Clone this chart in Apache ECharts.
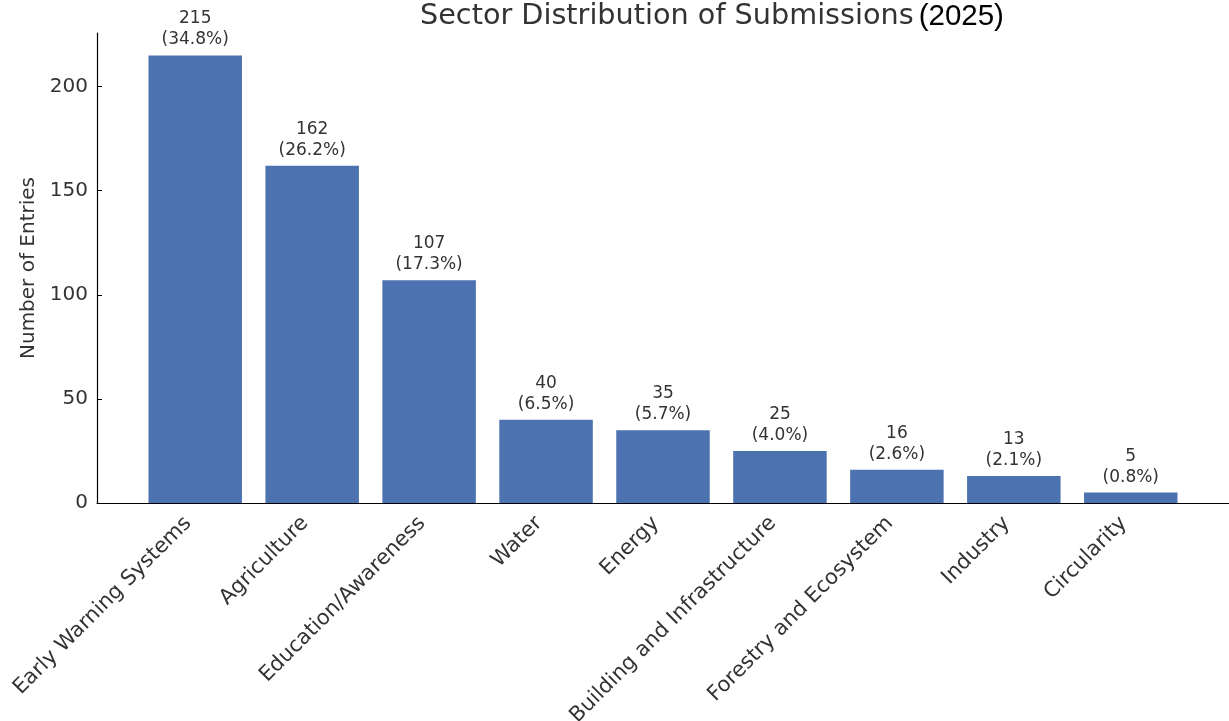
<!DOCTYPE html>
<html>
<head>
<meta charset="utf-8">
<script src="https://cdn.jsdelivr.net/npm/echarts@6/dist/echarts.min.js"></script>
<style>
  html, body { margin: 0; padding: 0; background: #fff; }
  #chart { width: 1229px; height: 721px; }
</style>
</head>
<body>
<div id="chart"></div>
<script>
const sectors = ['Early Warning Systems', 'Agriculture', 'Education/Awareness', 'Water', 'Energy',
  'Building and Infrastructure', 'Forestry and Ecosystem', 'Industry', 'Circularity']
const counts = [215, 162, 107, 40, 35, 25, 16, 13, 5]
const shares = ['34.8%', '26.2%', '17.3%', '6.5%', '5.7%', '4.0%', '2.6%', '2.1%', '0.8%']
const yTicks = [0, 50, 100, 150, 200]

const chart = echarts.init(document.getElementById('chart'))
const font = 'DejaVu Sans'
const positions = sectors.map((_, i) => i)

chart.setOption({
  animation: false,
  title: {
    text: '{a|Sector Distribution of Submissions} {b|(2025)}',
    left: 415,
    top: -3,
    textStyle: {
      rich: {
        a: { fontFamily: font, fontSize: 28.7, fontWeight: 'normal', color: '#333' },
        b: { fontFamily: 'Liberation Sans', fontSize: 29.5, fontWeight: 'normal', color: '#000' }
      }
    }
  },
  grid: { left: 97, right: 0, top: 33, bottom: 218, containLabel: false, outerBoundsMode: 'none' },
  xAxis: {
    type: 'value',
    min: -0.84,
    max: 8.84,
    axisLine: { lineStyle: { color: '#000', width: 1.2 } },
    axisTick: { inside: true, length: 5, customValues: positions, lineStyle: { color: '#000' } },
    splitLine: { show: false },
    axisLabel: {
      customValues: positions,
      rotate: 45,
      margin: 10,
      padding: [0, 10, 0, 0],
      fontFamily: font,
      fontSize: 21,
      color: '#333',
      formatter: v => sectors[Math.round(v)]
    }
  },
  yAxis: {
    type: 'value',
    min: 0,
    max: 225.75,
    name: 'Number of Entries',
    nameLocation: 'middle',
    nameGap: 56,
    nameTextStyle: { fontFamily: font, fontSize: 20, color: '#333' },
    axisLine: { show: true, onZero: false, lineStyle: { color: '#000', width: 1.2 } },
    axisTick: { show: true, inside: true, length: 5, customValues: yTicks, lineStyle: { color: '#000' } },
    splitLine: { show: false },
    axisLabel: {
      customValues: yTicks,
      margin: 9,
      fontFamily: font,
      fontSize: 20,
      color: '#333'
    }
  },
  series: [{
    type: 'bar',
    barWidth: 93.5,
    data: counts.map((v, i) => [i, v]),
    itemStyle: { color: '#4c72b0' },
    label: {
      show: true,
      position: 'top',
      distance: 5,
      fontFamily: font,
      fontSize: 17,
      lineHeight: 21,
      color: '#333',
      formatter: p => `${counts[p.dataIndex]}\n(${shares[p.dataIndex]})`
    }
  }]
})
</script>
</body>
</html>
